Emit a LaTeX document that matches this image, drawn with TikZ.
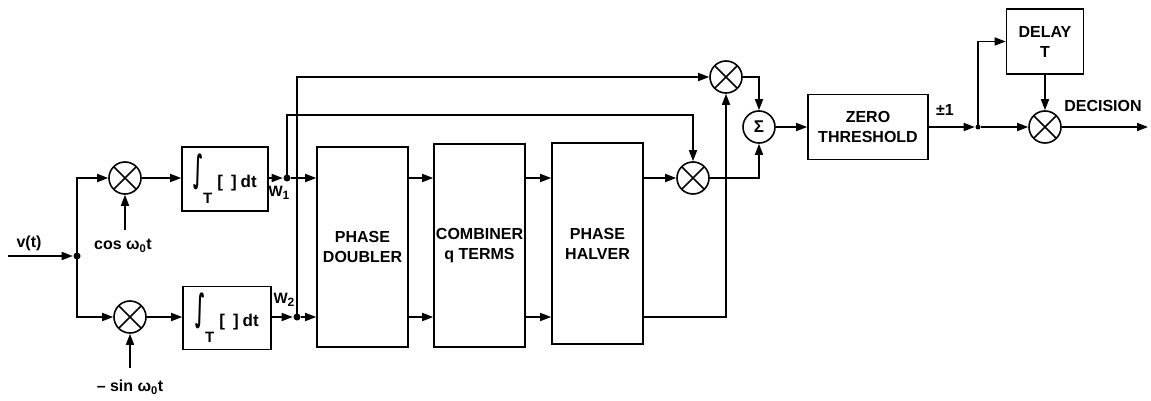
\documentclass[tikz,border=0pt]{standalone}
\usepackage{fontspec}
\setmainfont{Liberation Sans}
\newfontfamily\intfont{DejaVu Sans}
\usetikzlibrary{arrows.meta,calc}
\newcommand\intlabel{\raisebox{6pt}{\resizebox*{10pt}{36pt}{\intfont\bfseries ∫}}\kern0pt\raisebox{-16pt}{\fontsize{15}{15}\selectfont T}\kern5pt[\kern8pt]\kern4pt dt}
\begin{document}
\begin{tikzpicture}[x=1pt,y=-1pt,
  line width=1.6pt,
  >={Triangle[length=11pt,width=8pt]},
  lbl/.style={font=\fontsize{16}{18}\selectfont\bfseries, inner sep=0pt},
  blk/.style={draw, rectangle, inner sep=0pt, align=center, font=\fontsize{16}{20}\selectfont\bfseries},
  mult/.style={draw, circle, minimum size=32pt, inner sep=0pt,
    path picture={\draw[line width=1.6pt] (path picture bounding box.north west)--(path picture bounding box.south east)
      (path picture bounding box.north east)--(path picture bounding box.south west);}},
  dotn/.style={circle, fill, inner sep=0pt, minimum size=7pt},
]
\useasboundingbox (0,0) rectangle (1151,401);

% nodes
\coordinate (in) at (8,256);
\node[dotn] (j0) at (77,256) {};
\node[mult] (m1) at (125,178) {};
\node[mult] (m2) at (130,317) {};
\coordinate (c1) at (125,230);
\coordinate (c2) at (130,368);
\node[blk, minimum width=86pt, minimum height=64pt, font=\fontsize{17}{20}\selectfont\bfseries] (int1) at (225,179) {\intlabel};
\node[blk, minimum width=88pt, minimum height=63pt, font=\fontsize{17}{20}\selectfont\bfseries] (int2) at (227,318) {\intlabel};
\node[dotn] (w1) at (287,178) {};
\node[dotn] (w2) at (297,317) {};
\coordinate (t1) at (287,115);
\coordinate (t2) at (297,77);
\node[blk, minimum width=91pt, minimum height=200pt] (pd) at (362.5,247) {PHASE\\DOUBLER};
\node[blk, minimum width=91pt, minimum height=203pt] (cb) at (479.5,245.5) {COMBINER\\q TERMS};
\node[blk, minimum width=91pt, minimum height=201pt] (ph) at (597.5,243.5) {PHASE\\HALVER};
\node[mult] (mlo) at (693,178) {};
\node[mult] (mup) at (726,77) {};
\node[draw, circle, minimum size=32pt, inner sep=0pt, font=\fontsize{17}{17}\selectfont\bfseries] (sig) at (759,127) {Σ};
\node[blk, minimum width=120pt, minimum height=65pt] (thr) at (868,127) {ZERO\\THRESHOLD};
\node[dotn, minimum size=5pt] (j1) at (978,127) {};
\node[blk, minimum width=77pt, minimum height=65pt] (dly) at (1045,41.5) {DELAY\\T};
\node[mult] (mf) at (1045,127) {};
\coordinate (out) at (1148,127);

% labels
\node[lbl] (lv) at (29,243) {v(t)};
\node[lbl] (lc) at (123,246) {cos ω\textsubscript{0}t};
\node[lbl] (ls) at (130,387) {– sin ω\textsubscript{0}t};
\node[lbl, font=\fontsize{15}{16}\selectfont\bfseries] (lw1) at (279,193) {W\raisebox{-3pt}{\fontsize{12}{12}\selectfont 1}};
\node[lbl, font=\fontsize{15}{16}\selectfont\bfseries] (lw2) at (284,300) {W\raisebox{-3pt}{\fontsize{12}{12}\selectfont 2}};
\node[lbl] (lpm) at (945,110) {±1};
\node[lbl] (ldec) at (1103,106) {DECISION};

% connectors
\draw[->] (in) -- (j0);
\draw[->] (j0.center) |- (m1);
\draw[->] (j0.center) |- (m2);
\draw[->] (c1) -- (m1);
\draw[->] (c2) -- (m2);
\draw[->] (m1) -- (int1.west |- m1);
\draw[->] (m2) -- (int2.west |- m2);
\draw[->] (int1.east |- w1) -- (w1);
\draw[->] (int2.east |- w2) -- (w2);
\draw[->] (w1) -- (pd.west |- w1);
\draw[->] (w2) -- (pd.west |- w2);
\draw[->] (pd.east |- w1) -- (cb.west |- w1);
\draw[->] (pd.east |- w2) -- (cb.west |- w2);
\draw[->] (cb.east |- w1) -- (ph.west |- w1);
\draw[->] (cb.east |- w2) -- (ph.west |- w2);
\draw[->] (w1.center) -- (t1) -| (mlo);
\draw[->] (w2.center) -- (t2) -- (mup);
\draw[->] (ph.east |- mlo) -- (mlo);
\draw[->] (ph.east |- w2) -| (mup);
\draw[->] (mup) -| (sig);
\draw[->] (mlo) -| (sig);
\draw[->] (sig) -- (thr);
\draw[->] (thr) -- (j1);
\draw[->] (j1.center) |- (dly);
\draw[->] (j1) -- (mf);
\draw[->] (dly) -- (mf);
\draw[->] (mf) -- (out);
\end{tikzpicture}
\end{document}
